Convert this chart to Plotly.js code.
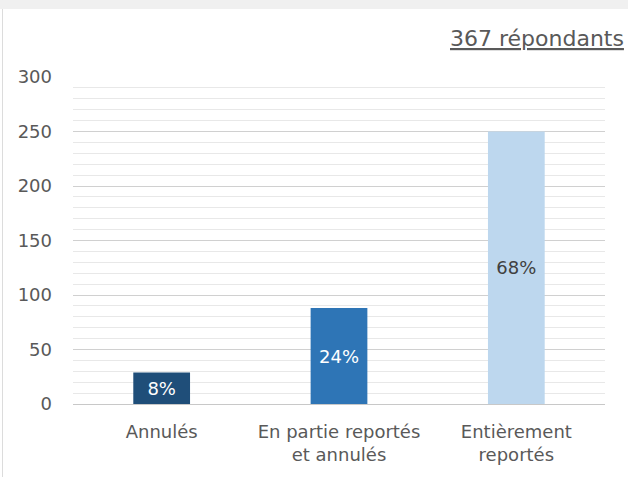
<!DOCTYPE html>
<html>
<head>
<meta charset="utf-8">
<script src="https://cdn.plot.ly/plotly-3.0.1.min.js"></script>
<style>
  html, body { margin: 0; padding: 0; background: #ffffff; width: 628px; height: 477px; overflow: hidden; }
  #band { position: absolute; left: 0; top: 0; width: 628px; height: 9px; background: #f0f0f0; }
  #chart { position: absolute; left: 2px; top: 9px; width: 626px; height: 468px; border-left: 1px solid #dcdcdc; }
</style>
</head>
<body>
<div id="band"></div>
<div id="chart"></div>
<script>
const categories = ["Annulés", "En partie reportés<br>et annulés", "Entièrement<br>reportés"];
const counts = [29, 88, 250];
const percentLabels = ["8%", "24%", "68%"];
const barColors = ["#1f4e79", "#2e75b6", "#bdd7ee"];
const labelColors = ["#ffffff", "#ffffff", "#404040"];
const respondentsNote = "367 répondants";

const FONT = "DejaVu Sans, sans-serif";

const trace = {
  type: "bar",
  x: categories,
  y: counts,
  text: percentLabels,
  textposition: "inside",
  insidetextanchor: "middle",
  textangle: 0,
  constraintext: "none",
  insidetextfont: { family: FONT, size: 18, color: labelColors },
  marker: { color: barColors, line: { width: 0 } },
  width: 0.32,
  hoverinfo: "none"
};

const layout = {
  width: 625,
  height: 468,
  margin: { l: 70, r: 23, t: 68, b: 73 },
  paper_bgcolor: "#ffffff",
  plot_bgcolor: "#ffffff",
  showlegend: false,
  font: { family: FONT, size: 18, color: "#595959" },
  xaxis: {
    type: "category",
    showgrid: false,
    showline: false,
    zeroline: false,
    ticks: "",
    ticklabelstandoff: 15,
    tickfont: { family: FONT, size: 18, color: "#595959" }
  },
  yaxis: {
    range: [0, 300],
    tickvals: [0, 50, 100, 150, 200, 250, 300],
    showgrid: true,
    gridcolor: "#d0d0d0",
    gridwidth: 1,
    zeroline: true,
    zerolinecolor: "#c8c8c8",
    zerolinewidth: 1,
    showline: false,
    ticks: "",
    ticklabelstandoff: 20,
    tickfont: { family: FONT, size: 18, color: "#595959" },
    minor: { dtick: 10, showgrid: true, gridcolor: "#e8e8e8", gridwidth: 1, ticks: "" }
  },
  annotations: [{
    xref: "paper", yref: "paper",
    x: 1.04, y: 1.118,
    xanchor: "right", yanchor: "middle",
    showarrow: false,
    text: '<span style="text-decoration:underline">' + respondentsNote + '</span>',
    font: { family: FONT, size: 22, color: "#595959" }
  }]
};

Plotly.newPlot("chart", [trace], layout, { displayModeBar: false, staticPlot: true });
</script>
</body>
</html>
